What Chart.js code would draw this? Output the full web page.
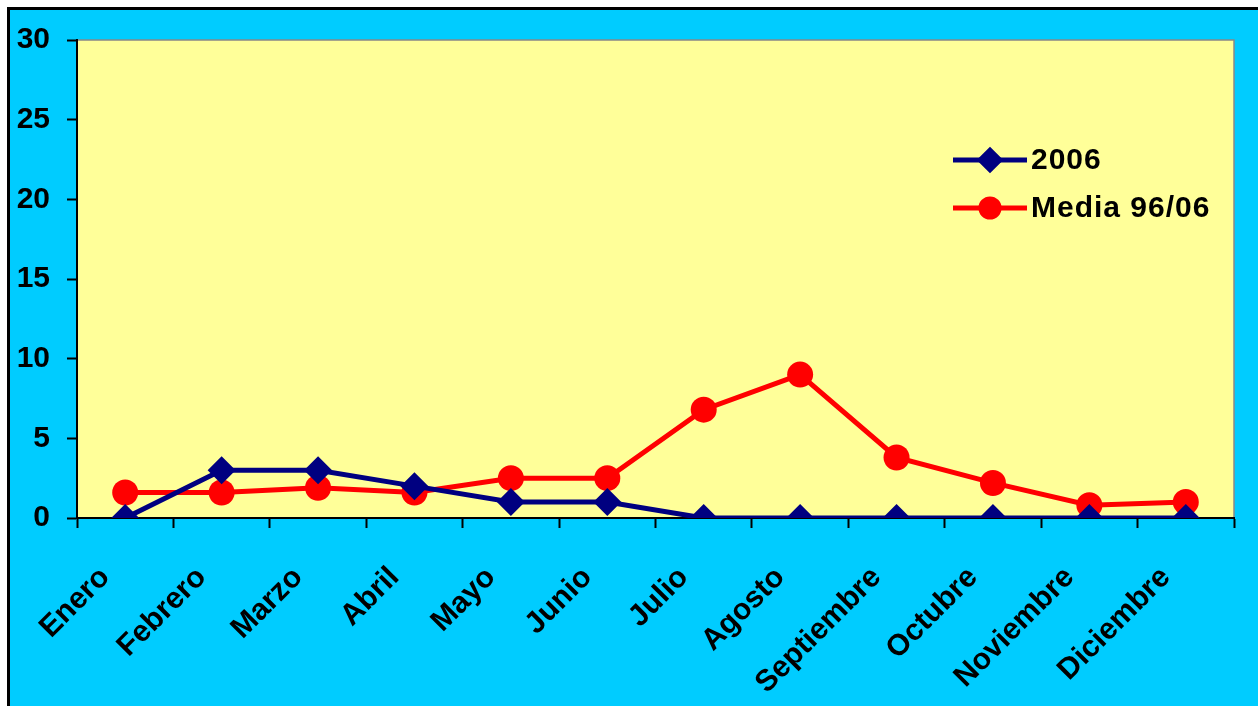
<!DOCTYPE html>
<html>
<head>
<meta charset="utf-8">
<script src="https://cdn.jsdelivr.net/npm/chart.js@4/dist/chart.umd.min.js"></script>
<style>
  html, body { margin: 0; padding: 0; background: #fff; overflow: hidden; }
  #wrap { position: absolute; left: 7px; top: 7px; width: 1251px; height: 699px;
          border-left: 3px solid #000; border-top: 3px solid #000; }
  canvas { display: block; }
</style>
</head>
<body>
<div id="wrap"><canvas id="myChart" width="1248" height="696"></canvas></div>
<script>
const meses = ['Enero', 'Febrero', 'Marzo', 'Abril', 'Mayo', 'Junio', 'Julio',
  'Agosto', 'Septiembre', 'Octubre', 'Noviembre', 'Diciembre'];
const valores2006 = [0, 3, 3, 2, 1, 1, 0, 0, 0, 0, 0, 0];
const media9606 = [1.6, 1.6, 1.9, 1.6, 2.5, 2.5, 6.8, 9.0, 3.8, 2.2, 0.8, 1.0];
const yMin = 0, yMax = 30, yStep = 5;

const fuente = { family: '"Liberation Sans", Arial, sans-serif', size: 30, weight: 'bold' };

// fondo cian, area amarilla y marco gris
const fondo = {
  id: 'fondo',
  beforeDraw(chart) {
    const { ctx, chartArea: a } = chart;
    ctx.save();
    ctx.fillStyle = '#00CCFF';
    ctx.fillRect(0, 0, chart.width, chart.height);
    ctx.fillStyle = '#FFFF99';
    ctx.fillRect(a.left, a.top, a.right - a.left, a.bottom - a.top);
    ctx.strokeStyle = '#888888';
    ctx.lineWidth = 1.5;
    ctx.strokeRect(a.left, a.top, a.right - a.left, a.bottom - a.top);
    ctx.restore();
  }
};

// leyenda dentro del area del grafico
const leyenda = {
  id: 'leyenda',
  afterDatasetsDraw(chart) {
    const { ctx, chartArea: a } = chart;
    const x0 = a.right - 281, x1 = a.right - 207;
    const ys = [a.top + 120, a.top + 168];
    ctx.save();
    chart.data.datasets.forEach((ds, i) => {
      const y = ys[i];
      ctx.strokeStyle = ds.borderColor;
      ctx.lineWidth = 5;
      ctx.beginPath();
      ctx.moveTo(x0, y);
      ctx.lineTo(x1, y);
      ctx.stroke();
      Chart.helpers.drawPoint(ctx, {
        pointStyle: ds.pointStyle,
        radius: ds.pointRadius * 0.7,
        rotation: 0,
        borderWidth: 1
      }, (x0 + x1) / 2, y);
      ctx.fillStyle = ds.borderColor;
      ctx.fill();
      ctx.fillStyle = '#000';
      ctx.font = 'bold 30px "Liberation Sans", Arial, sans-serif';
      ctx.letterSpacing = '1px';
      ctx.textBaseline = 'middle';
      ctx.textAlign = 'left';
      ctx.fillText(ds.label, x1 + 4, y + 1);
    });
    ctx.restore();
  }
};

const ctx = document.getElementById('myChart').getContext('2d');

new Chart(ctx, {
  type: 'line',
  data: {
    labels: meses,
    datasets: [{
      label: '2006',
      data: valores2006,
      borderColor: '#000080',
      backgroundColor: '#000080',
      borderWidth: 5,
      pointStyle: 'rectRot',
      pointRadius: 14,
      pointBorderWidth: 0,
      pointBackgroundColor: '#000080'
    }, {
      label: 'Media 96/06',
      data: media9606,
      borderColor: '#FF0000',
      backgroundColor: '#FF0000',
      borderWidth: 5,
      pointStyle: 'circle',
      pointRadius: 13,
      pointBorderWidth: 0,
      pointBackgroundColor: '#FF0000'
    }]
  },
  options: {
    responsive: false,
    animation: false,
    layout: { padding: { top: 30, right: 24, left: 0, bottom: 0 } },
    scales: {
      x: {
        offset: true,
        afterFit: (s) => { s.height = 188; s.paddingLeft = 0; s.paddingRight = 0; },
        grid: {
          offset: true,
          drawOnChartArea: false,
          drawTicks: true,
          tickLength: 10,
          tickWidth: 2,
          tickColor: '#000'
        },
        border: { color: '#000', width: 2 },
        ticks: {
          autoSkip: false,
          minRotation: 45,
          maxRotation: 45,
          padding: 32,
          labelOffset: -20,
          color: '#000',
          font: fuente
        }
      },
      y: {
        min: yMin,
        max: yMax,
        afterFit: (s) => { s.width = 67; s.paddingTop = 0; s.paddingBottom = 0; },
        grid: {
          drawOnChartArea: false,
          drawTicks: true,
          tickLength: 10,
          tickWidth: 2,
          tickColor: '#000'
        },
        border: { color: '#000', width: 2 },
        ticks: {
          stepSize: yStep,
          padding: 17,
          color: '#000',
          font: fuente
        }
      }
    },
    plugins: {
      legend: { display: false },
      tooltip: { enabled: false }
    }
  },
  plugins: [fondo, leyenda]
});
</script>
</body>
</html>
